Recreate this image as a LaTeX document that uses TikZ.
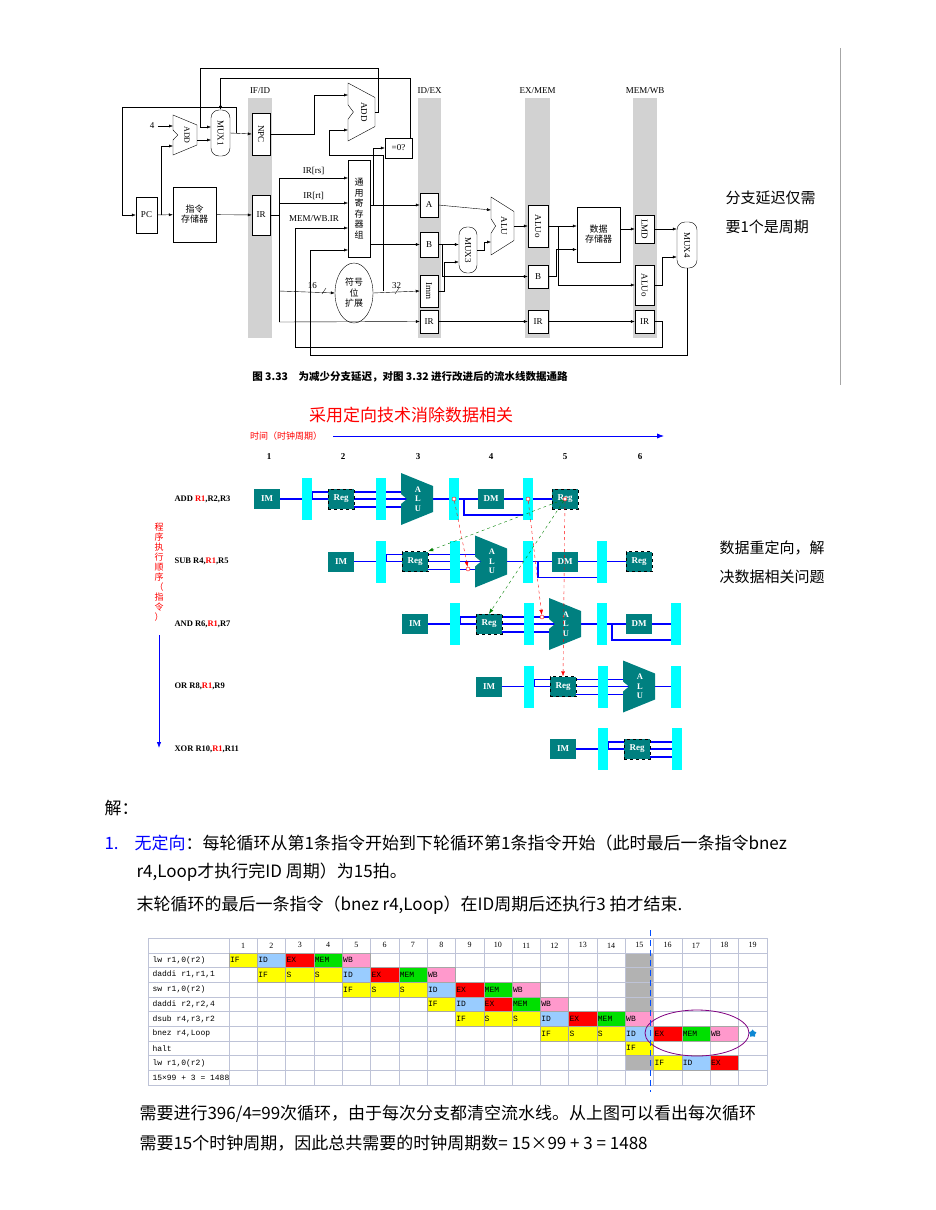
\documentclass[tikz,border=0pt]{standalone}
\usepackage{fontspec}
\setmainfont{Liberation Serif}
\newfontfamily\cjk{Noto Sans CJK SC}
\newfontfamily\mono{Liberation Mono}
\usepackage{graphicx}
\usetikzlibrary{arrows.meta, calc, shapes.geometric}
\definecolor{tealbox}{RGB}{0,128,128}
\definecolor{cyanbar}{RGB}{0,255,255}
\definecolor{idb}{RGB}{153,204,255}
\definecolor{exr}{RGB}{255,0,0}
\definecolor{memg}{RGB}{0,224,0}
\definecolor{wbp}{RGB}{255,153,204}
\definecolor{yel}{RGB}{255,255,0}
\definecolor{gridc}{RGB}{190,195,215}
\newcommand\trap[4]{% x, y, w, h
  \draw[thin, fill=white] (#1-#3/2,#2-#4/2) -- (#1+#3/2,#2-#4/4) -- (#1+#3/2,#2+#4/4) -- (#1-#3/2,#2+#4/2)
    -- (#1-#3/2,#2+#4/8) -- (#1-#3/2+#3/5,#2) -- (#1-#3/2,#2-#4/8) -- cycle;}
\tikzset{
  box/.style={draw, thin, fill=white, inner sep=0pt, font=\fontsize{9}{10}\selectfont},
  mux/.style={box, rounded corners=8pt},
  w/.style={thin, -{Latex[length=4pt,width=3pt]}},
  bus/.style={blue, line width=1.1pt},
  im/.style={fill=tealbox, text=white, minimum width=26pt, minimum height=20pt, inner sep=0pt, font=\bfseries\fontsize{9}{10}\selectfont},
  reg/.style={im, draw=black, dashed},
  bar/.style={fill=cyanbar, minimum width=10pt, minimum height=42pt, inner sep=0pt},
  fwr/.style={red, dashed, -{Latex[length=5pt]}},
  fwg/.style={green!50!black, dashed, -{Latex[length=5pt]}},
  dot/.style={circle, draw=red, fill=white, inner sep=0pt, minimum size=4pt},
  cell/.style={draw=gray!70, minimum width=28.3pt, minimum height=14.7pt, inner sep=0pt}
}
\begin{document}
\begin{tikzpicture}[x=1pt, y=-1pt]
  \useasboundingbox (0,0) rectangle (935,1210);

  % --- datapath of fig. 3.33
  \foreach \xa/\xb/\lab in {248/272/{IF/ID}, 418/441/{ID/EX}, 525/550/{EX/MEM}, 633/657/{MEM/WB}}{
    \fill[gray!35] (\xa,98) rectangle (\xb,338);
    \node[font=\fontsize{9}{10}\selectfont] at ({(\xa+\xb)/2},91) {\lab};
  }
  \draw[gray!70, thick] (840,48) -- (840,385);

  \node[box, minimum width=21pt, minimum height=36pt] (pc) at (146.5,215) {PC};
  \node[box, minimum width=43pt, minimum height=55pt, align=center] (imem) at (194.5,214.5) {\cjk 指令\\\cjk 存储器};
  \trap{185}{135}{24}{40}
  \node[font=\fontsize{8}{9}\selectfont] at (187,135) {\rotatebox{-90}{ADD}};
  \coordinate (add1a) at (173,126);
  \coordinate (add1b) at (173,146);
  \coordinate (add1o) at (197,140);
  \node[mux, minimum width=19pt, minimum height=46pt] (mux1) at (220.5,133) {\rotatebox{-90}{MUX1}};
  \coordinate (m1a) at (211,127);
  \coordinate (m1b) at (211,140);
  \node[box, minimum width=18pt, minimum height=42pt] (npc) at (261,134) {\rotatebox{-90}{NPC}};
  \node[box, minimum width=18pt, minimum height=40pt] (ir1) at (261,215) {IR};
  \trap{361.5}{112}{27}{58}
  \node[font=\fontsize{9}{10}\selectfont] at (364,112) {\rotatebox{-90}{ADD}};
  \coordinate (add2a) at (348,95);
  \coordinate (add2b) at (348,130);
  \coordinate (add2o) at (375,112);
  \node[box, minimum width=27pt, minimum height=20pt] (z0) at (398.5,148) {=0?};
  \node[box, minimum width=22pt, minimum height=97pt, align=center, font=\cjk\fontsize{9}{10.5}\selectfont] (rf) at (359,208.5) {通\\用\\寄\\存\\器\\组};
  \node[box, ellipse, minimum width=38pt, minimum height=60pt, align=center, font=\cjk\fontsize{9}{10.5}\selectfont] (sx) at (354,293) {符号\\位\\扩展};
  \node[box, minimum width=18pt, minimum height=24pt] (a) at (429,205) {A};
  \node[box, minimum width=18pt, minimum height=25pt] (b) at (429,244.5) {B};
  \node[box, minimum width=18pt, minimum height=32pt] (imm) at (429,291) {\rotatebox{-90}{Imm}};
  \node[box, minimum width=18pt, minimum height=23pt] (irx) at (429,321.5) {IR};
  \node[mux, minimum width=18pt, minimum height=46pt] (mux3) at (468,250) {\rotatebox{-90}{MUX3}};
  \trap{502.5}{226}{23}{58}
  \node[font=\fontsize{9}{10}\selectfont] at (504,226) {\rotatebox{-90}{ALU}};
  \coordinate (alua) at (491,210);
  \coordinate (alub) at (491,242);
  \coordinate (aluo) at (514,226);
  \node[box, minimum width=20pt, minimum height=42pt] (aluom) at (538,226) {\rotatebox{-90}{ALUo}};
  \node[box, minimum width=20pt, minimum height=23pt] (bm) at (538,276.5) {B};
  \node[box, minimum width=20pt, minimum height=23pt] (irm) at (538,321.5) {IR};
  \node[box, minimum width=43pt, minimum height=55pt, align=center] (dmem) at (598.5,234.5) {\cjk 数据\\\cjk 存储器};
  \node[box, minimum width=19pt, minimum height=28pt] (lmd) at (644.5,229) {\rotatebox{-90}{LMD}};
  \node[box, minimum width=19pt, minimum height=40pt] (aluow) at (644.5,285) {\rotatebox{-90}{ALUo}};
  \node[box, minimum width=19pt, minimum height=23pt] (irw) at (644.5,321.5) {IR};
  \node[mux, minimum width=20pt, minimum height=46pt] (mux4) at (687,245) {\rotatebox{-90}{MUX4}};

  \node[font=\fontsize{9}{10}\selectfont] (four) at (152,126) {4};
  \draw[w] (four) -- (add1a);
  \draw[w] (pc) -- (imem);
  \draw[w] (imem) -- (ir1);
  \draw[w] ($(pc.east)+(4,0)$) |- (add1b);
  \draw[w] (add1o) -- (m1b);
  \draw[w] (mux1.east) -- (npc.west);
  \draw[w] ($(mux1.east)+(6,0)$) -- ++(0,-26) -| ($(pc.west)+(-14,0)$) -- (pc.west);
  \draw[w] (add2o) -- ++(3,0) -- ++(0,-44) -| (200,127) -- (m1a);
  \draw[w] ($(z0.north east)+(-2,0)$) -- ++(0,-60) -| (mux1.north);
  \draw[w] (npc.east) -- (314,134) |- (add2a);
  \draw[w] (383,291) -- (383,155) -| (329,130) -- (add2b);
  \draw (ir1.east) -- (279,215);
  \draw (279,178) -- (279,322);
  \coordinate (rfa) at (348,178);
  \coordinate (rfb) at (348,203);
  \coordinate (rfc) at (348,228);
  \coordinate (rfd) at (348,250);
  \draw[w] (279,178) -- (rfa) node[pos=0.5, above, font=\fontsize{9}{10}\selectfont] {IR[rs]};
  \draw[w] (279,203) -- (rfb) node[pos=0.5, above, font=\fontsize{9}{10}\selectfont] {IR[rt]};
  \node[font=\fontsize{9}{10}\selectfont] at (314,219) {MEM/WB.IR};
  \draw[w] (279,291) -- (sx.west) node[pos=0.6, above, font=\fontsize{9}{10}\selectfont] {16};
  \draw (322,294) -- (326,288);
  \draw[w] (sx.east) -- (imm.west) node[pos=0.5, above, font=\fontsize{9}{10}\selectfont] {32};
  \draw (395,294) -- (399,288);
  \draw[w] (279,322) -- (irx.west);
  \draw[w] (irw.east) -- ++(8,0) |- (295,347) |- (rfc);
  \draw[w] (mux4.south) |- (310,355) |- (rfd);
  \draw[w] (rf.east |- a.west) -- (a.west);
  \draw[w] (rf.east |- b.west) -- (b.west);
  \draw[w] (373,205) |- (z0.west);
  \draw[w] (a.east) -- (alua);
  \draw[w] (b.east) -- (b.east -| mux3.west);
  \draw[w] (imm.east) -- ++(6,0) |- ($(mux3.west)+(0,12)$);
  \draw[w] ($(b.east)+(4,0)$) |- (bm.west);
  \draw[w] (mux3.east) -- ++(7,0) |- (alub);
  \draw[w] (aluo) -- (aluom.west);
  \draw[w] (aluom.east) -- (aluom.east -| dmem.west);
  \draw[w] ($(aluom.east)+(10,0)$) |- (aluow.west);
  \draw[w] (bm.east) -- ++(8,0) |- ($(dmem.west)+(0,15)$);
  \draw[w] (dmem.east |- lmd.west) -- (lmd.west);
  \draw[w] (lmd.east) -- (lmd.east -| mux4.west);
  \draw[w] (aluow.east) -- ++(8,0) |- ($(mux4.west)+(0,12)$);
  \draw[w] (irx.east) -- (irm.west);
  \draw[w] (irm.east) -- (irw.west);
  \node[font=\cjk\bfseries\fontsize{10.5}{12}\selectfont] at (410,377) {图 3.33\quad 为减少分支延迟，对图 3.32 进行改进后的流水线数据通路};
  \node[anchor=west, align=left, font=\cjk\fontsize{15}{29}\selectfont] at (722,212) {分支延迟仅需\\要1个是周期};

  % --- forwarding diagram
  \node[red, font=\cjk\fontsize{17}{18}\selectfont] at (411,415) {采用定向技术消除数据相关};
  \node[red, font=\cjk\fontsize{9}{10}\selectfont] (time) at (286,436) {时间（时钟周期）};
  \draw[blue, thick, -{Latex[length=7pt]}] (333,436) -- (664,436);
  \foreach \c/\xc in {1/269,2/343,3/418,4/491,5/565,6/640}
    \node[font=\bfseries\fontsize{9}{10}\selectfont] at (\xc,457) {\c};
  \foreach \r/\lab in {0/ADD \textcolor{red}{R1}{,}R2{,}R3, 1/SUB R4{,}\textcolor{red}{R1}{,}R5, 2/AND R6{,}\textcolor{red}{R1}{,}R7, 3/OR R8{,}\textcolor{red}{R1}{,}R9, 4/XOR R10{,}\textcolor{red}{R1}{,}R11}
    \node[anchor=west, font=\bfseries\fontsize{8.5}{10}\selectfont] at (171,499+62.5*\r) {\lab};
  \node[red, align=center, font=\cjk\fontsize{9}{10}\selectfont] at (159,572) {程\\序\\执\\行\\顺\\序\\（\\指\\令\\）};
  \draw[blue, thick, -{Latex[length=6pt]}] (159,635) -- (159,748);

  \def\px{{267,307,341,381,417,454,491,528,565}}
  \foreach \r/\n in {0/9,1/9,2/8,3/6,4/4}{
    \pgfmathsetmacro\dx{74*\r}
    \pgfmathsetmacro\yy{499+62.5*\r}
    \pgfmathsetmacro\xe{\px[\n-1]+\dx}
    \draw[bus] (267+\dx,\yy) -- (\xe,\yy);
    \draw[bus] (312+\dx,\yy) -- (312+\dx,\yy-7) -- (341+\dx,\yy-7);
    \ifnum\n>4
      \draw[bus] (341+\dx,\yy-7) -- (401+\dx,\yy-7);
      \draw[bus] (341+\dx,\yy+8) -- (401+\dx,\yy+8);
    \else
      \draw[bus] (341+\dx,\yy-7) -- (381+\dx,\yy-7);
      \draw[bus] (341+\dx,\yy+8) -- (381+\dx,\yy+8);
    \fi
    \ifnum\n>7
      \draw[bus] (464+\dx,\yy) -- (464+\dx,\yy+16) -- (524+\dx,\yy+16);
    \fi
    \node[im] (im\r) at (267+\dx,\yy) {IM};
    \node[bar] (bar\r-1) at (307+\dx,\yy) {};
    \node[reg] (reg\r) at (341+\dx,\yy) {Reg};
    \node[bar] (bar\r-3) at (381+\dx,\yy) {};
    \ifnum\n>5
      \fill[tealbox] (401+\dx,\yy-26) -- (433+\dx,\yy-13) -- (433+\dx,\yy+13) -- (401+\dx,\yy+26)
        -- (401+\dx,\yy+5) -- (407+\dx,\yy) -- (401+\dx,\yy-5) -- cycle;
      \node[text=white, align=center, inner sep=0pt, font=\bfseries\fontsize{8.5}{9.5}\selectfont] (alu\r) at (418+\dx,\yy) {A\\L\\U};
      \node[bar] (bar\r-5) at (454+\dx,\yy) {};
    \fi
    \ifnum\n>7
      \node[im] (dm\r) at (491+\dx,\yy) {DM};
      \node[bar] (bar\r-7) at (528+\dx,\yy) {};
    \fi
    \ifnum\n>8
      \node[reg] (wb\r) at (565+\dx,\yy) {Reg};
    \fi
  }
  \node[dot] (c1) at (bar0-5) {};
  \node[dot] (c2) at (bar0-7) {};
  \node[dot] (c3) at (468,569) {};
  \node[dot] (c4) at (542,617) {};
  \node[dot] (c5) at (565,499) {};
  \draw[fwr] (c1) -- (c3);
  \draw[fwr] (c2) -- (c4);
  \draw[fwr] (c5) -- (reg3.north);
  \draw[fwg] (c5) -- (reg1.north east);
  \draw[fwg] (c5) -- (reg2.north);
  \node[anchor=west, align=left, font=\cjk\fontsize{15}{29}\selectfont] at (716,562) {数据重定向，解\\决数据相关问题};

  % --- text
  \node[anchor=west, font=\cjk\fontsize{17}{19}\selectfont] at (101,808) {解：};
  \node[anchor=west, font=\cjk\fontsize{17}{19}\selectfont] at (101,843) {\textcolor{blue}{1.}\hspace{16pt}\textcolor{blue}{无定向}：每轮循环从第1条指令开始到下轮循环第1条指令开始（此时最后一条指令bnez};
  \node[anchor=west, font=\cjk\fontsize{17}{19}\selectfont] at (133,872) {r4,Loop才执行完ID 周期）为15拍。};
  \node[anchor=west, font=\cjk\fontsize{17}{19}\selectfont] at (133,905) {末轮循环的最后一条指令（bnez r4,Loop）在ID周期后还执行3 拍才结束.};

  % --- timing table
  \fill[gray!60] (625.2,952.7) rectangle (653.5,1011.5);
  \fill[gray!60] (625.2,1055.6) rectangle (653.5,1070.3);
  \foreach \k in {0,...,10} \draw[gridc] (148,938+14.7*\k) -- (766.7,938+14.7*\k);
  \draw[gridc] (148,938) -- (148,1085);
  \foreach \k in {0,...,19} \draw[gridc] (229+28.3*\k,938) -- (229+28.3*\k,1085);
  \foreach \c in {1,...,19}
    \node[font=\fontsize{8}{9}\selectfont] at (214.85+28.3*\c,945.35) {\c};
  \foreach \r/\lab in {1/lw r1{,}0(r2), 2/daddi r1{,}r1{,}1, 3/sw r1{,}0(r2), 4/daddi r2{,}r2{,}4, 5/dsub r4{,}r3{,}r2, 6/bnez r4{,}Loop, 7/halt, 8/lw r1{,}0(r2), 9/15×99 + 3 = 1488}
    \node[anchor=west, font=\mono\fontsize{8}{9}\selectfont] at (149,945.35+14.7*\r) {\lab};
  \foreach \r/\c/\s/\f in {1/1/IF/yel, 1/2/ID/idb, 1/3/EX/exr, 1/4/MEM/memg, 1/5/WB/wbp,
    2/2/IF/yel, 2/3/S/yel, 2/4/S/yel, 2/5/ID/idb, 2/6/EX/exr, 2/7/MEM/memg, 2/8/WB/wbp,
    3/5/IF/yel, 3/6/S/yel, 3/7/S/yel, 3/8/ID/idb, 3/9/EX/exr, 3/10/MEM/memg, 3/11/WB/wbp,
    4/8/IF/yel, 4/9/ID/idb, 4/10/EX/exr, 4/11/MEM/memg, 4/12/WB/wbp,
    5/9/IF/yel, 5/10/S/yel, 5/11/S/yel, 5/12/ID/idb, 5/13/EX/exr, 5/14/MEM/memg, 5/15/WB/wbp,
    6/12/IF/yel, 6/13/S/yel, 6/14/S/yel, 6/15/ID/idb, 6/16/EX/exr, 6/17/MEM/memg, 6/18/WB/wbp,
    7/15/IF/yel, 8/16/IF/yel, 8/17/ID/idb, 8/18/EX/exr}{
    \node[cell, fill=\f] (t\r-\c) at (214.85+28.3*\c,945.35+14.7*\r) {};
    \node[anchor=west, inner sep=1pt, font=\mono\fontsize{8}{9}\selectfont] at (t\r-\c.west) {\s};
  }
  \node[star, star points=5, fill=cyan!70!blue, inner sep=0pt, minimum size=8pt] (st) at (t6-18.east) [xshift=14pt] {};
  \draw[violet, thick] (697,1033) ellipse (52pt and 23pt);
  \draw[blue!70!cyan, thick, dash pattern=on 6pt off 4pt] (650,930) -- (650,1092);

  \node[anchor=west, font=\cjk\fontsize{17}{19}\selectfont] at (136,1114) {需要进行396/4=99次循环，由于每次分支都清空流水线。从上图可以看出每次循环};
  \node[anchor=west, font=\cjk\fontsize{17}{19}\selectfont] at (136,1143) {需要15个时钟周期，因此总共需要的时钟周期数= 15×99 + 3 = 1488};
\end{tikzpicture}
\end{document}
